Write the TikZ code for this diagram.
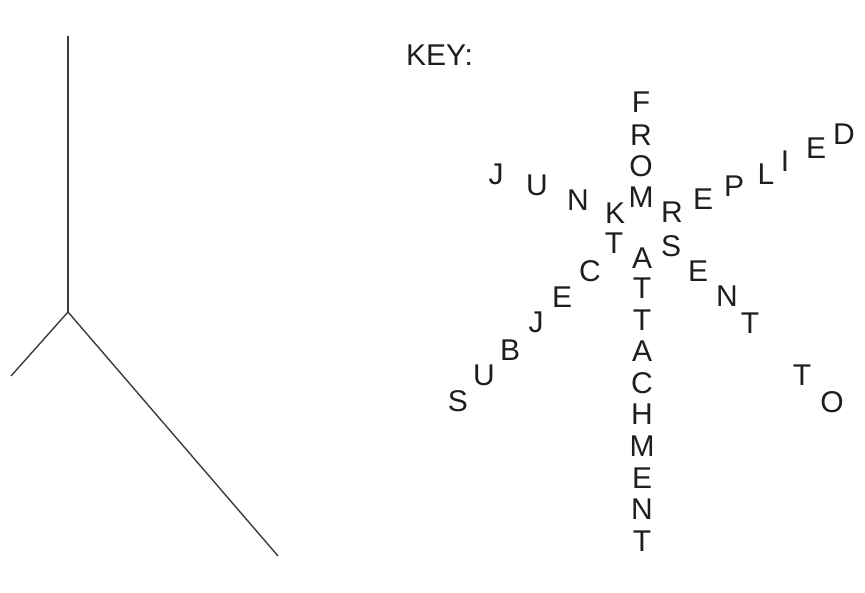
\documentclass[tikz,border=0pt]{standalone}
\usepackage{fontspec}
\setmainfont{Liberation Sans}
\definecolor{ink}{HTML}{1E1E1E}
\definecolor{stem}{HTML}{3C3C3C}
\begin{document}
\begin{tikzpicture}[x=1pt, y=-1pt,
	letter/.style={font=\fontsize{30}{30}\selectfont, text=ink, inner sep=0pt},
	branch/.style={draw=stem, line width=1.4pt}
	]
	\useasboundingbox (0,0) rectangle (865,592);
	
	% Tree
	\coordinate (top) at (68,36);
	\coordinate (fork) at (68,312);
	\coordinate (leftend) at (11,376);
	\coordinate (rightend) at (278,556);
	\draw[branch, line width=2pt] (top) -- (fork);
	\draw[branch] (fork) -- (leftend);
	\draw[branch] (fork) -- (rightend);
	
	% Key
	\node[letter, anchor=west] (key) at (406,55) {KEY:};
	
	% FROM (down)
	\foreach \ch/\x/\y [count=\i] in {F/641/102, R/641/135, O/641/166, M/641/197}
		\node[letter] (from\i) at (\x,\y) {\ch};
	
	% ATTACHMENT (down)
	\foreach \ch/\x/\y [count=\i] in {A/642/258, T/642/288, T/642/320, A/642/351, C/642/383,
		H/642/414, M/642/446, E/642/478, N/642/509, T/642/541}
		\node[letter] (attach\i) at (\x,\y) {\ch};
	
	% JUNK (down to the right)
	\foreach \ch/\x/\y [count=\i] in {J/496/174, U/537/185, N/578/200, K/615/213}
		\node[letter] (junk\i) at (\x,\y) {\ch};
	
	% SUBJECT (up to the right)
	\foreach \ch/\x/\y [count=\i] in {S/458/401, U/484/375, B/510/350, J/536/322,
		E/562/297, C/590/271, T/614/243}
		\node[letter] (subject\i) at (\x,\y) {\ch};
	
	% REPLIED (up to the right)
	\foreach \ch/\x/\y [count=\i] in {R/672/212, E/703/199, P/734/186, L/766/174,
		I/785/161, E/816/148, D/844/134}
		\node[letter] (replied\i) at (\x,\y) {\ch};
	
	% SENT TO (down to the right)
	\foreach \ch/\x/\y [count=\i] in {S/671/246, E/698/271, N/727/296, T/750/323,
		T/802/375, O/832/402}
		\node[letter] (sentto\i) at (\x,\y) {\ch};
\end{tikzpicture}
\end{document}
